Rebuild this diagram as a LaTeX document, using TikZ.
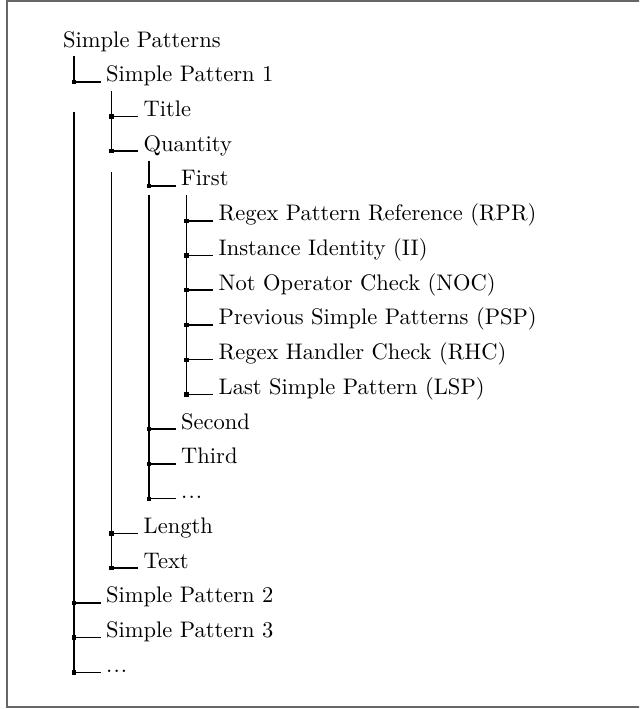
\documentclass[tikz,border=0pt]{standalone}
\usepackage{tikz}
\usetikzlibrary{calc, positioning}

\begin{document}
\begin{tikzpicture}[node distance=15.44pt]

  \tikzstyle{item} = [anchor=base west, inner xsep=2.25pt, inner ysep=2pt, text height=7pt, text depth=2pt];
  \tikzstyle{deeper} = [item, xshift=16.67pt];
  \tikzstyle{shallower} = [item, xshift=-16.67pt];
  \tikzstyle{twig} = [line width=0.7pt];
  \tikzstyle{trunk} = [line width=0.7pt];
  \tikzstyle{knot} = [fill, rectangle, inner sep=0pt, minimum size=1.9pt];
  \tikzstyle{frame} = [draw=black!60, line width=0.9pt];

  \useasboundingbox (0,0) rectangle (284pt,-315.1pt);
  \clip (0,0) rectangle (284pt,-315.1pt);
  \draw[frame] (2.9pt,-0.3pt) rectangle (300pt,-314.2pt);

  \node [item]                                  (patterns) at (25.65pt,-20.9pt) {Simple Patterns};
  \node [below=of patterns.base west, item, xshift=19.1pt] (sp1) {Simple Pattern 1};
  \node [below=of sp1.base west, deeper]        (title)    {Title};
  \node [below=of title.base west, item]        (quantity) {Quantity};
  \node [below=of quantity.base west, deeper]   (first)    {First};
  \node [below=of first.base west, deeper]      (rpr)      {Regex Pattern Reference (RPR)};
  \node [below=of rpr.base west, item]          (ii)       {Instance Identity (II)};
  \node [below=of ii.base west, item]           (noc)      {Not Operator Check (NOC)};
  \node [below=of noc.base west, item]          (psp)      {Previous Simple Patterns (PSP)};
  \node [below=of psp.base west, item]          (rhc)      {Regex Handler Check (RHC)};
  \node [below=of rhc.base west, item]          (lsp)      {Last Simple Pattern (LSP)};
  \node [below=of lsp.base west, shallower]     (second)   {Second};
  \node [below=of second.base west, item]       (third)    {Third};
  \node [below=of third.base west, item]        (moreq)    {.\kern.5pt.\kern.5pt.};
  \node [below=of moreq.base west, shallower]   (length)   {Length};
  \node [below=of length.base west, item]       (text)     {Text};
  \node [below=of text.base west, shallower]    (sp2)      {Simple Pattern 2};
  \node [below=of sp2.base west, item]          (sp3)      {Simple Pattern 3};
  \node [below=of sp3.base west, item]          (moresp)   {.\kern.5pt.\kern.5pt.};

  \foreach \n in {sp1,title,quantity,first,rpr,ii,noc,psp,rhc,lsp,second,third,moreq,length,text,sp2,sp3,moresp}
    \draw[twig] (\n.base west) -- ++(-11.85pt,0) coordinate (\n-j) node[knot] (\n-k) {};

  \draw[trunk] (patterns.south -| sp1-j) -- (sp1-j);
  \draw[trunk] ($(sp1.south -| sp2-j)+(0,-9.3pt)$) -- (moresp-j);
  \draw[trunk] (sp1.south -| title-j) -- (quantity-j);
  \draw[trunk] ($(quantity.south -| length-j)+(0,-4.9pt)$) -- (text-j);
  \draw[trunk] (quantity.south -| first-j) -- (first-j);
  \draw[trunk] (first.south -| second-j) -- (moreq-j);
  \draw[trunk] (first.south -| rpr-j) -- (lsp-j);

\end{tikzpicture}
\end{document}
